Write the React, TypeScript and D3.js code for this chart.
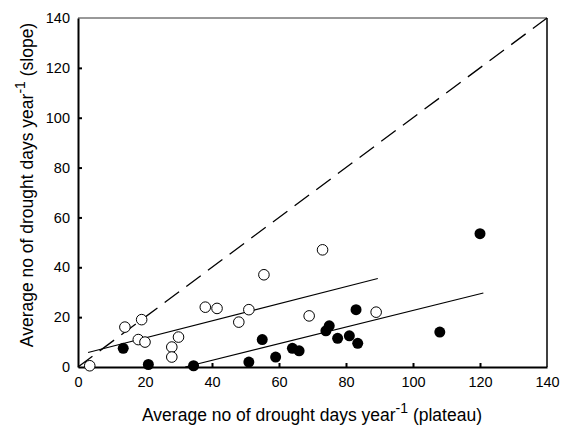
import React, { useRef, useEffect } from 'react';
import * as d3 from 'd3';

// open circles = one group, filled = the other (x: plateau, y: slope)
const openX = [3.5, 14, 19, 18, 20, 28, 28, 30, 38, 41.5, 48, 51, 55.5, 69, 73, 89];
const openY = [0.5, 16, 19, 11, 10, 8, 4, 12, 24, 23.5, 18, 23, 37, 20.5, 47, 22];
const filledX = [13.5, 21, 34.5, 51, 55, 59, 64, 66, 75, 74, 77.5, 81, 83.5, 83, 108, 120];
const filledY = [7.5, 1, 0.5, 2, 11, 4, 7.5, 6.5, 16.5, 14.5, 11.5, 12.5, 9.5, 23, 14, 53.5];

// fitted lines (endpoints)
const openFitX = [3, 89.5];
const openFitY = [5.8, 35.5];
const filledFitX = [32, 121];
const filledFitY = [0, 29.7];

const ticks = [0, 20, 40, 60, 80, 100, 120, 140];

const App = () => {
  const ref = useRef<SVGSVGElement>(null);

  useEffect(() => {
    const width = 562;
    const height = 430;
    const m = { left: 78, right: 15, top: 18, bottom: 63 };

    const svg = d3.select(ref.current);
    svg.selectAll('*').remove();
    svg.attr('width', width).attr('height', height);

    const x = d3.scaleLinear().domain([0, 140]).range([m.left, width - m.right]);
    const y = d3.scaleLinear().domain([0, 140]).range([height - m.bottom, m.top]);
    const font = 'Liberation Sans, Arial, sans-serif';

    // frame: heavy left/bottom, light top/right
    svg.append('line')
      .attr('x1', x(0)).attr('x2', x(140)).attr('y1', y(140)).attr('y2', y(140))
      .attr('stroke', '#333').attr('stroke-width', 1);
    svg.append('line')
      .attr('x1', x(140)).attr('x2', x(140)).attr('y1', y(140)).attr('y2', y(0))
      .attr('stroke', '#000').attr('stroke-width', 1.5);

    const xAxis = svg.append('g').attr('transform', `translate(0,${y(0)})`)
      .call(d3.axisBottom(x).tickValues(ticks).tickSize(-4).tickPadding(10).tickSizeOuter(0));
    const yAxis = svg.append('g').attr('transform', `translate(${x(0)},0)`)
      .call(d3.axisLeft(y).tickValues(ticks).tickSize(-4).tickPadding(8).tickSizeOuter(0));

    [xAxis, yAxis].forEach(a => {
      a.select('.domain').attr('stroke', '#000').attr('stroke-width', 2);
      a.selectAll('.tick line').attr('stroke', '#000').attr('stroke-width', 2);
      a.selectAll('.tick text')
        .attr('font-family', font).attr('font-size', 14.5).attr('fill', '#000');
    });
    xAxis.selectAll('.tick')
      .filter((d: any) => d === 0 || d === 140)
      .select('line').remove();
    yAxis.selectAll('.tick')
      .filter((d: any) => d === 0 || d === 140)
      .select('line').remove();

    // 1:1 line
    svg.append('line')
      .attr('x1', x(0)).attr('y1', y(0)).attr('x2', x(140)).attr('y2', y(140))
      .attr('stroke', '#000').attr('stroke-width', 1.3)
      .attr('stroke-dasharray', '18,9');

    const fit = (xs: number[], ys: number[]) => {
      svg.append('line')
        .attr('x1', x(xs[0])).attr('y1', y(ys[0]))
        .attr('x2', x(xs[1])).attr('y2', y(ys[1]))
        .attr('stroke', '#000').attr('stroke-width', 1.1);
    };
    fit(openFitX, openFitY);
    fit(filledFitX, filledFitY);

    svg.append('g').selectAll('circle')
      .data(openX.map((v, i) => [v, openY[i]]))
      .join('circle')
      .attr('cx', d => x(d[0])).attr('cy', d => y(d[1])).attr('r', 5.3)
      .attr('fill', '#fff').attr('stroke', '#000').attr('stroke-width', 1);

    svg.append('g').selectAll('circle')
      .data(filledX.map((v, i) => [v, filledY[i]]))
      .join('circle')
      .attr('cx', d => x(d[0])).attr('cy', d => y(d[1])).attr('r', 5.5)
      .attr('fill', '#000');

    const xl = svg.append('text')
      .attr('x', 312).attr('y', 421)
      .attr('text-anchor', 'middle')
      .attr('font-family', font).attr('font-size', 17.5).attr('fill', '#000');
    xl.append('tspan').text('Average no of drought days year');
    xl.append('tspan').attr('dy', -8).attr('font-size', 14).text('-1');
    xl.append('tspan').attr('dy', 8).text(' (plateau)');

    const yl = svg.append('text')
      .attr('transform', `translate(33,185) rotate(-90)`)
      .attr('text-anchor', 'middle')
      .attr('font-family', font).attr('font-size', 17.5).attr('fill', '#000');
    yl.append('tspan').text('Average no of drought days year');
    yl.append('tspan').attr('dy', -8).attr('font-size', 14).text('-1');
    yl.append('tspan').attr('dy', 8).text(' (slope)');

    return () => {
      d3.select(ref.current).selectAll('*').remove();
    };
  }, []);

  return <svg ref={ref} style={{ position: 'absolute', left: 0, top: 0 }}></svg>;
};

export default App;
